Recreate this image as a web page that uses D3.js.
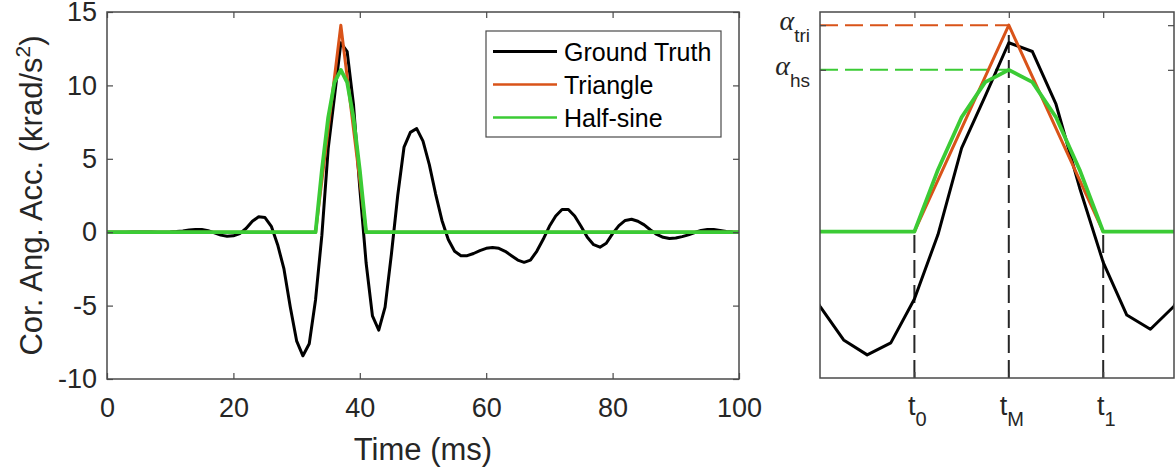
<!DOCTYPE html>
<html>
<head>
<meta charset="utf-8">
<script src="https://cdn.jsdelivr.net/npm/d3@7"></script>
<style>
body { margin: 0; background: #fff; }
svg { font-family: "Liberation Sans", Arial, sans-serif; }
</style>
</head>
<body>
<svg id="chart" width="1175" height="468"></svg>
<script>
// ground truth, one sample per ms, 0..100 ms
var gtValues = [0, 0, 0, 0, 0.01, 0.02, 0.02, 0.01, 0, 0,
    0.01, 0.04, 0.09, 0.15, 0.19, 0.18, 0.1, -0.05, -0.2, -0.27,
    -0.25, -0.1, 0.25, 0.75, 1.05, 1.0, 0.4, -0.85, -2.5, -5.1,
    -7.4, -8.42, -7.6, -4.6, -0.2, 5.7, 9.25, 12.9, 12.3, 8.7,
    3.0, -2.1, -5.7, -6.67, -5.1, -1.5, 2.5, 5.8, 6.8, 7.06,
    6.2, 4.6, 2.6, 0.8, -0.5, -1.3, -1.6, -1.6, -1.45, -1.25,
    -1.1, -1.05, -1.1, -1.3, -1.6, -1.9, -2.05, -1.9, -1.3, -0.5,
    0.4, 1.1, 1.55, 1.55, 1.1, 0.4, -0.35, -0.85, -1.02, -0.75,
    -0.1, 0.45, 0.8, 0.88, 0.75, 0.5, 0.15, -0.15, -0.35, -0.43,
    -0.4, -0.3, -0.18, -0.02, 0.12, 0.18, 0.18, 0.12, 0.05, 0.01, 0];
var gtTime = d3.range(0, 101);

var triTime = [0, 33, 37, 41, 100];
var triValues = [0, 0, 14.1, 0, 0];

var hsTime = [0, 33, 34, 35, 36, 37, 38, 39, 40, 41, 100];
var hsValues = [0, 0, 4.23, 7.81, 10.21, 11.05, 10.21, 7.81, 4.23, 0, 0];

var seriesNames = ["Ground Truth", "Triangle", "Half-sine"];
var seriesColors = ["#000000", "#D95319", "#3BCB35"];
var seriesWidths = [3, 3, 3.8];

var xTicks = [0, 20, 40, 60, 80, 100];
var yTicks = [-10, -5, 0, 5, 10, 15];

// right panel: zoom on the pulse
var zoomTicks = [33, 37, 41];
var zoomTickNames = [["t", "0"], ["t", "M"], ["t", "1"]];
var peakValues = [14.1, 11.05];
var peakNames = [["\u03B1", "tri"], ["\u03B1", "hs"]];
var peakColors = ["#D95319", "#3BCB35"];

var textColor = "#262626";
var svg = d3.select("#chart");
var defs = svg.append("defs");

function toPoints(times, values) {
    return times.map(function(t, i) { return {t: t, v: values[i]}; });
}
var series = [toPoints(gtTime, gtValues), toPoints(triTime, triValues), toPoints(hsTime, hsValues)];

function styleAxis(g) {
    g.select(".domain").remove();
    g.selectAll(".tick line").attr("stroke", "#4a4a4a").attr("stroke-width", 1.2);
    g.selectAll(".tick text").attr("fill", textColor).style("font-size", "27px");
}

function addClip(id, box) {
    defs.append("clipPath").attr("id", id)
        .append("rect").attr("x", box.left).attr("y", box.top)
        .attr("width", box.right - box.left).attr("height", box.bottom - box.top);
}

function drawFrame(box) {
    svg.append("rect")
        .attr("x", box.left).attr("y", box.top)
        .attr("width", box.right - box.left).attr("height", box.bottom - box.top)
        .attr("fill", "none").attr("stroke", "#4a4a4a").attr("stroke-width", 1.5);
}

// ---------- LEFT PANEL ----------
var L = {left: 107, right: 739, top: 12, bottom: 379};
var x = d3.scaleLinear().domain([0, 100]).range([L.left, L.right]);
var y = d3.scaleLinear().domain([-10, 15]).range([L.bottom, L.top]);
addClip("clipL", L);

var line = d3.line().x(d => x(d.t)).y(d => y(d.v));
var gL = svg.append("g").attr("clip-path", "url(#clipL)");
series.forEach(function(s, i) {
    gL.append("path").datum(s)
        .attr("d", line)
        .attr("fill", "none")
        .attr("stroke", seriesColors[i])
        .attr("stroke-width", seriesWidths[i])
        .attr("stroke-linejoin", "round");
});

var plainNum = d => String(d);
svg.append("g").attr("transform", "translate(0," + L.bottom + ")")
    .call(d3.axisBottom(x).tickValues(xTicks).tickSizeInner(-6).tickSizeOuter(0).tickPadding(19).tickFormat(plainNum))
    .call(styleAxis);
svg.append("g").attr("transform", "translate(0," + L.top + ")")
    .call(d3.axisTop(x).tickValues(xTicks).tickSizeInner(-6).tickSizeOuter(0).tickFormat(""))
    .call(styleAxis);
svg.append("g").attr("transform", "translate(" + L.left + ",0)")
    .call(d3.axisLeft(y).tickValues(yTicks).tickSizeInner(-6).tickSizeOuter(0).tickPadding(10).tickFormat(plainNum))
    .call(styleAxis);
svg.append("g").attr("transform", "translate(" + L.right + ",0)")
    .call(d3.axisRight(y).tickValues(yTicks).tickSizeInner(-6).tickSizeOuter(0).tickFormat(""))
    .call(styleAxis);
drawFrame(L);

svg.append("text")
    .attr("x", (L.left + L.right) / 2).attr("y", 460)
    .attr("text-anchor", "middle").attr("fill", textColor)
    .style("font-size", "31px")
    .text("Time (ms)");

var yLabel = svg.append("text")
    .attr("transform", "translate(42," + ((L.top + L.bottom) / 2) + ") rotate(-90)")
    .attr("text-anchor", "middle").attr("fill", textColor)
    .style("font-size", "31px");
yLabel.append("tspan").text("Cor. Ang. Acc. (krad/s");
yLabel.append("tspan").text("2").style("font-size", "21px").attr("dy", -12);
yLabel.append("tspan").text(")").attr("dy", 12);

// legend
var leg = {x: 486, y: 31, w: 235, h: 106};
svg.append("rect")
    .attr("x", leg.x).attr("y", leg.y).attr("width", leg.w).attr("height", leg.h)
    .attr("fill", "#fff").attr("stroke", "#4a4a4a").attr("stroke-width", 1.2);
var legRows = svg.selectAll(".legend").data(seriesNames).enter()
    .append("g").attr("class", "legend")
    .attr("transform", (d, i) => "translate(" + leg.x + "," + (leg.y + 20.5 + i * 33) + ")");
legRows.append("line")
    .attr("x1", 7).attr("x2", 71)
    .attr("stroke", (d, i) => seriesColors[i])
    .attr("stroke-width", (d, i) => i == 0 ? 3 : 2.6);
legRows.append("text")
    .attr("x", 78).attr("y", 9)
    .attr("fill", "#000").style("font-size", "25px")
    .text(d => d);

// ---------- RIGHT PANEL ----------
var R = {left: 820, right: 1174, top: 12, bottom: 378};
var xz = d3.scaleLinear().domain([29, 44]).range([R.left, R.right]);
var yz = d3.scaleLinear().domain([-10, 15]).range([R.bottom, R.top]);
addClip("clipR", R);

var gR = svg.append("g").attr("clip-path", "url(#clipR)");
var dash = "18,7";

// horizontal dashed guides for the peak heights
peakValues.forEach(function(p, i) {
    gR.append("line")
        .attr("x1", xz(29)).attr("x2", xz(zoomTicks[1]))
        .attr("y1", yz(p)).attr("y2", yz(p))
        .attr("stroke", peakColors[i]).attr("stroke-width", 2)
        .attr("stroke-dasharray", dash);
});
// vertical dashed guides at t0, tM, t1
var guideTops = [0, peakValues[0], 0];
zoomTicks.forEach(function(t, i) {
    gR.append("line")
        .attr("x1", xz(t)).attr("x2", xz(t))
        .attr("y1", yz(-10)).attr("y2", yz(guideTops[i]))
        .attr("stroke", "#262626").attr("stroke-width", 2)
        .attr("stroke-dasharray", dash);
});

var lineZ = d3.line().x(d => xz(d.t)).y(d => yz(d.v));
series.forEach(function(s, i) {
    gR.append("path").datum(s)
        .attr("d", lineZ)
        .attr("fill", "none")
        .attr("stroke", seriesColors[i])
        .attr("stroke-width", seriesWidths[i])
        .attr("stroke-linejoin", "round");
});

svg.append("g").attr("transform", "translate(0," + R.bottom + ")")
    .call(d3.axisBottom(xz).tickValues(zoomTicks).tickSizeInner(-6).tickSizeOuter(0).tickFormat(""))
    .call(styleAxis);
svg.append("g").attr("transform", "translate(0," + R.top + ")")
    .call(d3.axisTop(xz).tickValues(zoomTicks).tickSizeInner(-6).tickSizeOuter(0).tickFormat(""))
    .call(styleAxis);
svg.append("g").attr("transform", "translate(" + R.left + ",0)")
    .call(d3.axisLeft(yz).tickValues(peakValues).tickSizeInner(-6).tickSizeOuter(0).tickFormat(""))
    .call(styleAxis);
svg.append("g").attr("transform", "translate(" + R.right + ",0)")
    .call(d3.axisRight(yz).tickValues(peakValues).tickSizeInner(-6).tickSizeOuter(0).tickFormat(""))
    .call(styleAxis);
drawFrame(R);

// t0 / tM / t1 labels
var tLabels = svg.selectAll(".tlabel").data(zoomTicks).enter()
    .append("text").attr("class", "tlabel")
    .attr("x", d => xz(d) + 3).attr("y", R.bottom + 37)
    .attr("text-anchor", "middle").attr("fill", textColor)
    .style("font-size", "27px");
tLabels.append("tspan").text((d, i) => zoomTickNames[i][0]);
tLabels.append("tspan").text((d, i) => zoomTickNames[i][1])
    .style("font-size", "20px").attr("dy", 11);

// alpha labels
var aLabels = svg.selectAll(".alabel").data(peakValues).enter()
    .append("text").attr("class", "alabel")
    .attr("x", R.left - 10).attr("y", d => yz(d) + 5)
    .attr("text-anchor", "end").attr("fill", textColor);
aLabels.append("tspan").text((d, i) => peakNames[i][0])
    .style("font-family", "'Liberation Serif', 'DejaVu Serif', serif")
    .style("font-style", "italic").style("font-size", "28px");
aLabels.append("tspan").text((d, i) => peakNames[i][1])
    .style("font-size", "19px").attr("dy", 12);
</script>
</body>
</html>
